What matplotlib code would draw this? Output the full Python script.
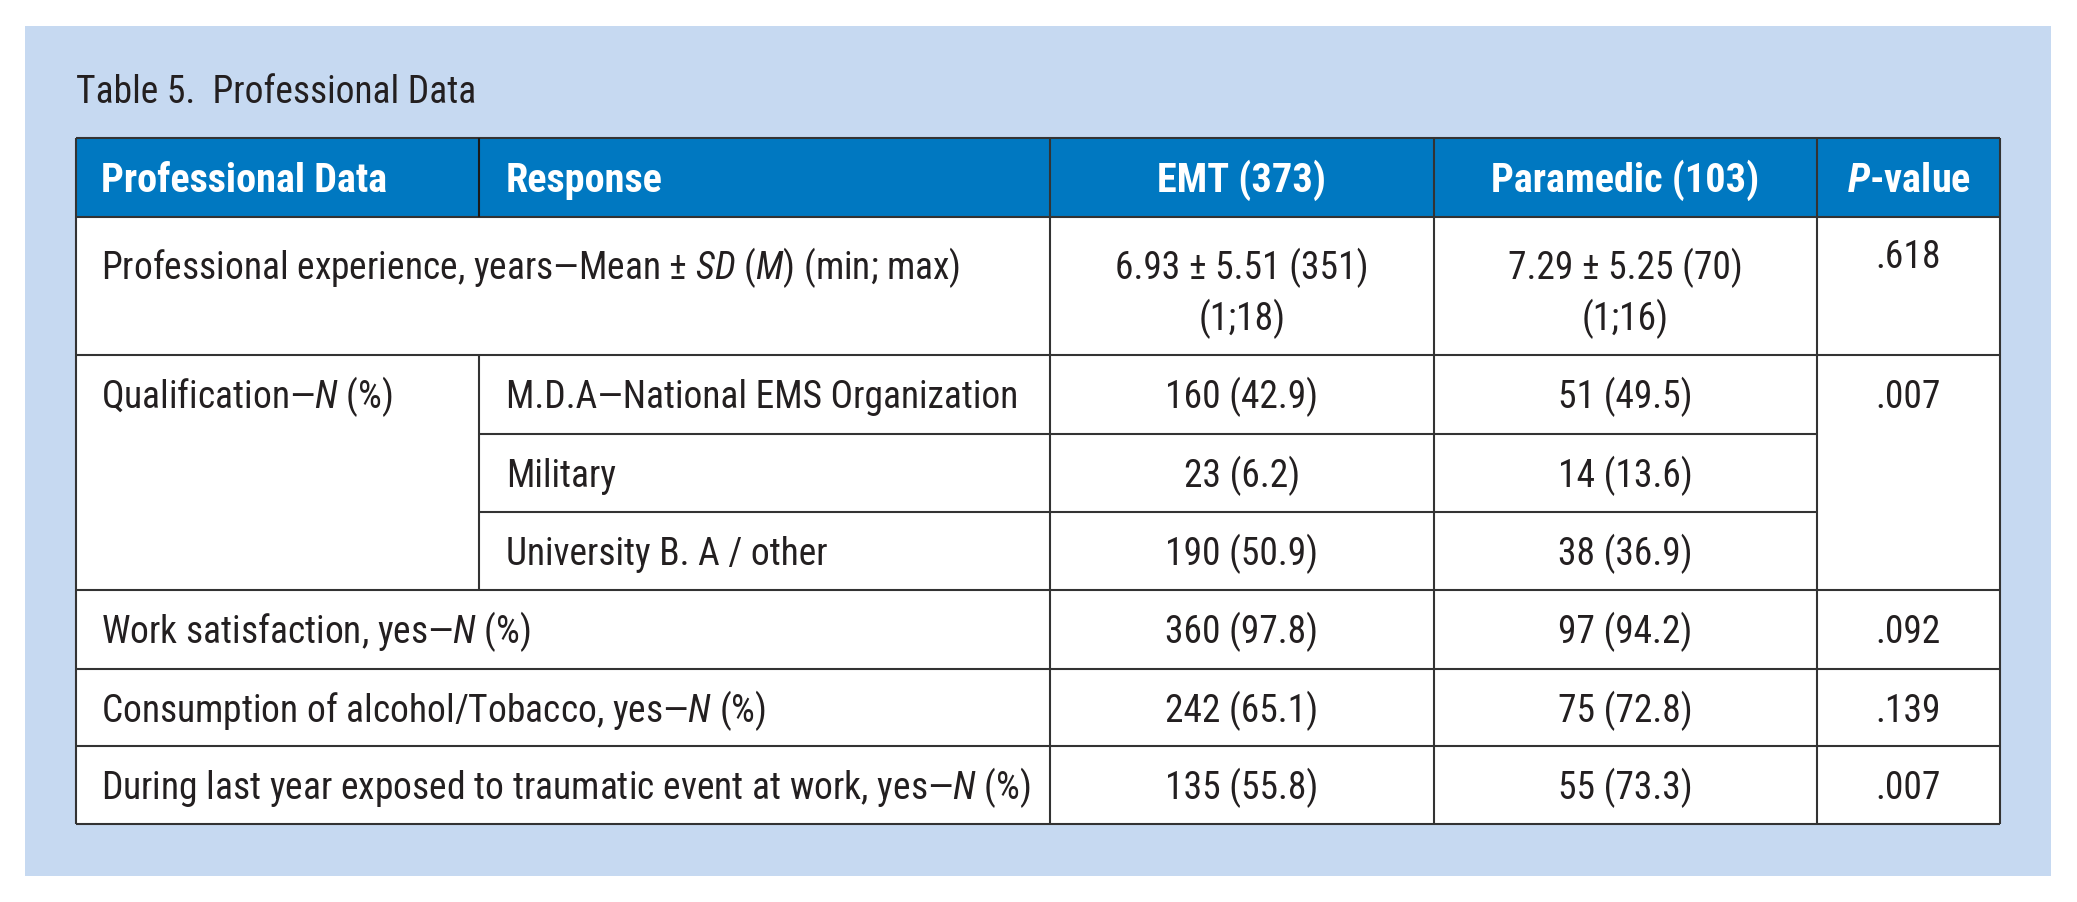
import matplotlib
matplotlib.use("Agg")
import matplotlib.pyplot as plt
from matplotlib import font_manager
from matplotlib.patches import Rectangle

# fonts: pick a condensed sans close to Helvetica Condensed
names = {f.name for f in font_manager.fontManager.ttflist}
FONT = 'Liberation Sans'
for cand in ['Roboto Condensed', 'Archivo Narrow', 'Liberation Sans Narrow', 'Barlow Condensed']:
    if cand in names:
        FONT = cand
        break
plt.rcParams['font.family'] = [FONT, 'DejaVu Sans']
plt.rcParams['mathtext.fontset'] = 'custom'
plt.rcParams['mathtext.rm'] = FONT
plt.rcParams['mathtext.it'] = FONT + ':italic'
plt.rcParams['mathtext.bf'] = FONT + ':bold'
plt.rcParams['mathtext.bfit'] = FONT + ':italic:bold'

# ---- table data ----
title = "Table 5.  Professional Data"
headers = ["Professional Data", "Response", "EMT (373)", "Paramedic (103)", "$\\mathbfit{P}$-value"]
row_labels = [
    "Professional experience, years\u2014Mean \u00b1 $\\mathit{SD}$ ($\\mathit{M}$) (min; max)",
    "Qualification\u2014$\\mathit{N}$ (%)",
    "Work satisfaction, yes\u2014$\\mathit{N}$ (%)",
    "Consumption of alcohol/Tobacco, yes\u2014$\\mathit{N}$ (%)",
    "During last year exposed to traumatic event at work, yes\u2014$\\mathit{N}$ (%)",
]
responses = ["M.D.A\u2014National EMS Organization", "Military", "University B. A / other"]
emt = ["6.93 \u00b1 5.51 (351)", "160 (42.9)", "23 (6.2)", "190 (50.9)",
       "360 (97.8)", "242 (65.1)", "135 (55.8)"]
emt_range = "(1;18)"
paramedic = ["7.29 \u00b1 5.25 (70)", "51 (49.5)", "14 (13.6)", "38 (36.9)",
             "97 (94.2)", "75 (72.8)", "55 (73.3)"]
para_range = "(1;16)"
pvalues = [".618", ".007", ".092", ".139", ".007"]

# ---- layout (pixels) ----
W, H = 2077, 902
col_x = [76, 479, 1050, 1433.5, 1817, 2000]
row_y = [137.7, 216.7, 355, 434, 511.7, 590, 668.7, 746, 824.3]
BG = '#c6d9f1'
HEAD = '#0078c1'
LINE = '#333333'
TXT = '#231f20'
FS = 27
HFS = 29
LW = 1.5

fig = plt.figure(figsize=(W / 100, H / 100), dpi=100)
ax = fig.add_axes([0, 0, 1, 1])
ax.set_xlim(0, W)
ax.set_ylim(H, 0)
ax.axis('off')

ax.add_patch(Rectangle((25, 25.7), 2051 - 25, 876 - 25.7, color=BG, lw=0))
ax.add_patch(Rectangle((col_x[0], row_y[0]), col_x[-1] - col_x[0], row_y[-1] - row_y[0],
                       color='white', lw=0))
ax.add_patch(Rectangle((col_x[0], row_y[0]), col_x[-1] - col_x[0], row_y[1] - row_y[0],
                       color=HEAD, lw=0))

ax.text(col_x[0], 103, title, fontsize=FS, color=TXT, va='baseline', ha='left')


def cx(j):
    return (col_x[j] + col_x[j + 1]) / 2


# header
hb = row_y[0] + 54.5
ax.text(col_x[0] + 25, hb, headers[0], fontsize=HFS, fontweight='bold', color='white', va='baseline')
ax.text(col_x[1] + 27, hb, headers[1], fontsize=HFS, fontweight='bold', color='white', va='baseline')
for j in range(2, 5):
    ax.text(cx(j), hb, headers[j], fontsize=HFS, fontweight='bold', color='white',
            va='baseline', ha='center')

# row 1: experience (two-line values)
top = row_y[1]
ax.text(col_x[0] + 25, top + 62, row_labels[0], fontsize=FS, color=TXT, va='baseline')
ax.text(cx(2), top + 62, emt[0], fontsize=FS, color=TXT, va='baseline', ha='center')
ax.text(cx(2), top + 113, emt_range, fontsize=FS, color=TXT, va='baseline', ha='center')
ax.text(cx(3), top + 62, paramedic[0], fontsize=FS, color=TXT, va='baseline', ha='center')
ax.text(cx(3), top + 113, para_range, fontsize=FS, color=TXT, va='baseline', ha='center')
ax.text(cx(4), top + 51.5, pvalues[0], fontsize=FS, color=TXT, va='baseline', ha='center')

# qualification block
ax.text(col_x[0] + 25, row_y[2] + 53, row_labels[1], fontsize=FS, color=TXT, va='baseline')
ax.text(cx(4), row_y[2] + 53, pvalues[1], fontsize=FS, color=TXT, va='baseline', ha='center')
for i, resp in enumerate(responses):
    b = row_y[2 + i] + 53
    ax.text(col_x[1] + 27, b, resp, fontsize=FS, color=TXT, va='baseline')
    ax.text(cx(2), b, emt[1 + i], fontsize=FS, color=TXT, va='baseline', ha='center')
    ax.text(cx(3), b, paramedic[1 + i], fontsize=FS, color=TXT, va='baseline', ha='center')

# remaining single rows
for k in range(3):
    b = row_y[5 + k] + 53
    ax.text(col_x[0] + 25, b, row_labels[2 + k], fontsize=FS, color=TXT, va='baseline')
    ax.text(cx(2), b, emt[4 + k], fontsize=FS, color=TXT, va='baseline', ha='center')
    ax.text(cx(3), b, paramedic[4 + k], fontsize=FS, color=TXT, va='baseline', ha='center')
    ax.text(cx(4), b, pvalues[2 + k], fontsize=FS, color=TXT, va='baseline', ha='center')

# grid lines
full = [0, 1, 2, 5, 6, 7, 8]
ax.hlines([row_y[i] for i in full], col_x[0], col_x[-1], colors=LINE, lw=LW)
ax.hlines([row_y[3], row_y[4]], col_x[1], col_x[4], colors=LINE, lw=LW)
ax.vlines([col_x[0], col_x[-1]], row_y[0], row_y[-1], colors=LINE, lw=LW)
ax.vlines(col_x[2:5], row_y[0], row_y[-1], colors=LINE, lw=LW)
ax.vlines(col_x[1], row_y[0], row_y[1], colors='#1a1a1a', lw=LW)
ax.vlines(col_x[1], row_y[2], row_y[5], colors=LINE, lw=LW)

fig.savefig('out.png', dpi=100)
